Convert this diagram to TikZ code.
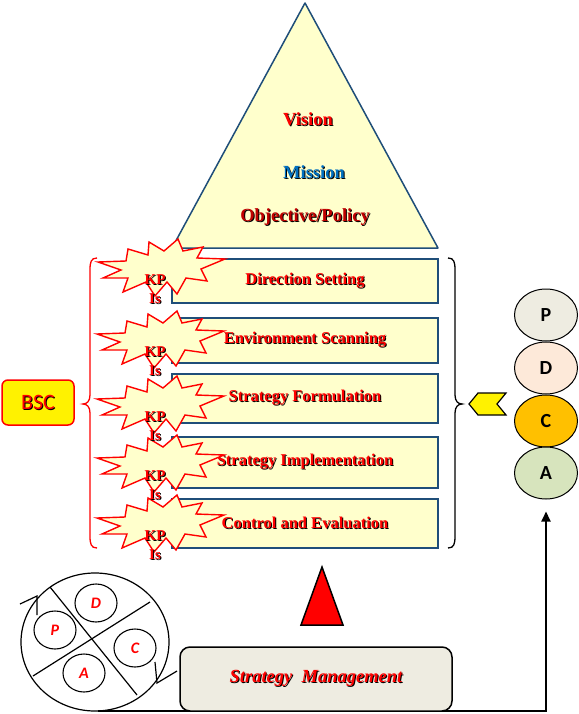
\documentclass[tikz,border=0pt]{standalone}
\usepackage{fontspec}
\setmainfont{Liberation Serif}
\newfontfamily\califont{Carlito}
\usetikzlibrary{shapes.geometric,arrows.meta}
\definecolor{paleyel}{HTML}{FFFFCC}
\definecolor{boxblue}{HTML}{1F4E79}
\definecolor{darkred}{HTML}{C00000}
\definecolor{misblue}{HTML}{0070C0}
\definecolor{pcol}{HTML}{EEECE1}
\definecolor{dcol}{HTML}{FDE9D9}
\definecolor{ccol}{HTML}{FFC000}
\definecolor{acol}{HTML}{D7E4BD}
\definecolor{smfill}{HTML}{EEECE1}
\newcommand\shtxt[2]{\leavevmode\rlap{\kern1pt\raisebox{-1pt}{\color{black}#2}}{\color{#1}#2}}
\tikzset{
  stagebox/.style={draw=boxblue, line width=1.8pt, fill=paleyel, minimum width=266pt, inner sep=0pt,
    font=\fontsize{16.5}{18}\selectfont\bfseries},
  pyrtext/.style={font=\fontsize{18.5}{20}\selectfont\bfseries, inner sep=0pt},
  kptext/.style={font=\fontsize{15}{19}\selectfont\bfseries, align=center, inner sep=0pt},
  pdcabubble/.style={ellipse, draw=black, line width=1pt, minimum width=63pt, minimum height=52pt, inner sep=0pt,
    font=\califont\fontsize{20}{22}\selectfont\bfseries},
  wheelbubble/.style={ellipse, draw=black, line width=1.1pt, minimum width=42pt, minimum height=38pt, inner sep=0pt,
    font=\califont\fontsize{16}{17}\selectfont\bfseries\itshape, text=red},
  kpstar/.pic={\draw[draw=red, line width=1.4pt, fill=paleyel, line join=miter]
    (-63,-8) -- (-35,-9) -- (-33,-21) -- (-13,-15) -- (-12,-28) -- (3,-19) -- (17,-31) -- (22,-19)
    -- (42,-23) -- (36,-12) -- (64,-11) -- (40,-1) -- (46,11) -- (25,8) -- (16,24) -- (6,12)
    -- (-6,26) -- (-15,12) -- (-38,22) -- (-33,8) -- (-58,8) -- (-40,0) -- cycle;}
}
\begin{document}
\begin{tikzpicture}[x=1pt,y=-1pt]
\useasboundingbox (0,0) rectangle (578,714);
% pyramid
\draw[draw=boxblue, line width=1.5pt, fill=paleyel, line join=round] (305,3) -- (438,248) -- (172,248) -- cycle;
\node[pyrtext] (vis) at (308,120) {\shtxt{red}{Vision}};
\node[pyrtext] (mis) at (314,173) {\shtxt{misblue}{Mission}};
\node[pyrtext] (obj) at (305,218) {\shtxt{darkred}{Objective/Policy}};
% stages
\node[stagebox, minimum height=44pt] (ds) at (305,281) {\shtxt{red}{Direction Setting}};
\node[stagebox, minimum height=45pt] (es) at (305,340.5) {\shtxt{red}{Environment Scanning}};
\node[stagebox, minimum height=49pt] (sf) at (305,398.5) {\shtxt{red}{Strategy Formulation}};
\node[stagebox, minimum height=51pt] (si) at (305,462.5) {\shtxt{red}{Strategy Implementation}};
\node[stagebox, minimum height=49pt] (ce) at (305,523.5) {\shtxt{red}{Control and Evaluation}};
% stars
\pic at (161,270) {kpstar};
\pic at (160,342) {kpstar};
\pic at (160,407) {kpstar};
\pic at (160,466) {kpstar};
\pic at (160,526) {kpstar};
\node[kptext] (k1) at (155,289.5) {\shtxt{red}{KP}\\\shtxt{red}{Is}};
\node[kptext] (k2) at (155,362) {\shtxt{red}{KP}\\\shtxt{red}{Is}};
\node[kptext] (k3) at (155,427) {\shtxt{red}{KP}\\\shtxt{red}{Is}};
\node[kptext] (k4) at (155,486) {\shtxt{red}{KP}\\\shtxt{red}{Is}};
\node[kptext] (k5) at (155,546) {\shtxt{red}{KP}\\\shtxt{red}{Is}};
% braces
\draw[red, line width=1.3pt] (97,258) .. controls (91,258) and (90,262) .. (90,270) -- (90,395)
  .. controls (90,401) and (87,404) .. (83,404) .. controls (87,404) and (90,407) .. (90,413) -- (90,536)
  .. controls (90,544) and (91,548) .. (97,548);
\draw[black, line width=1.3pt] (448,258) .. controls (454,258) and (455,262) .. (455,270) -- (455,395)
  .. controls (455,401) and (458,404) .. (462,404) .. controls (458,404) and (455,407) .. (455,413) -- (455,536)
  .. controls (455,544) and (454,548) .. (448,548);
% BSC
\node[draw=red, fill=yellow, rounded corners=6pt, line width=1.5pt, minimum width=72pt, minimum height=45pt, inner sep=0pt]
  (bsc) at (38,402.5) {\califont\fontsize{22}{24}\selectfont\shtxt{red}{BSC}};
% chevron
\draw[fill=yellow, line width=1.2pt, line join=miter] (469,404) -- (478,393) -- (506,393) -- (497,404) -- (506,415) -- (478,415) -- cycle;
% PDCA column
\node[pdcabubble, fill=pcol] (P) at (546,315) {P};
\node[pdcabubble, fill=dcol] (D) at (546,368) {D};
\node[pdcabubble, fill=ccol] (C) at (546,421) {C};
\node[pdcabubble, fill=acol] (A) at (546,473) {A};
% red triangle
\draw[fill=red, line width=1.5pt, line join=miter] (322,567) -- (343,625) -- (301,625) -- cycle;
% connector
\coordinate (start) at (98,711);
\draw[line width=2pt, -{Triangle[length=10pt,width=9pt]}] (start) -| ([yshift=-12pt]A.south);
% wheel
\draw[line width=1.2pt] (95,642) ellipse [x radius=74pt, y radius=69pt];
\draw[line width=1.2pt] (50,587) -- (137,695);
\draw[line width=1.2pt] (33,676) -- (150,602);
\draw[line width=1.2pt] (20,604) -- (37,596) -- (37,615);
\draw[line width=1.2pt] (155,662) -- (157,683) -- (177,671);
\node[wheelbubble] (wd) at (96,603) {D};
\node[wheelbubble] (wp) at (55,630) {P};
\node[wheelbubble] (wa) at (84,673) {A};
\node[wheelbubble] (wc) at (135,648) {C};
% strategy management
\node[draw=black, line width=1.5pt, fill=smfill, rounded corners=10pt, minimum width=272pt, minimum height=64pt, inner sep=0pt]
  (sm) at (316,679) {\fontsize{18.5}{20}\selectfont\bfseries\itshape\shtxt{red}{Strategy\ \ Management}};
\end{tikzpicture}
\end{document}
